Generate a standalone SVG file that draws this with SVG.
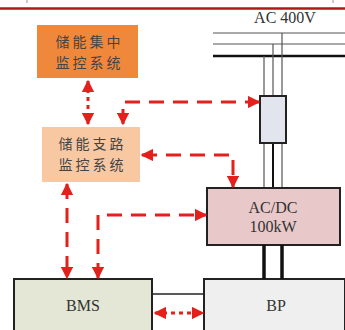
<svg xmlns="http://www.w3.org/2000/svg" width="345" height="330" viewBox="0 0 345 330">
<defs>
<marker id="ah" viewBox="0 0 10 10" refX="9" refY="5" markerWidth="4.2" markerHeight="4.2" orient="auto-start-reverse" markerUnits="strokeWidth">
<path d="M0,0 L10,5 L0,10 z" fill="#e4201c"/>
</marker>
<style>
.dash{fill:none;stroke:#e4201c;stroke-width:3;stroke-dasharray:15 9}
.dot{fill:none;stroke:#e4201c;stroke-width:3;stroke-dasharray:4 4}
.bus{stroke:#555;stroke-width:1.2;fill:none}
.cn{font-family:"Noto Sans CJK SC",sans-serif;font-size:14px;letter-spacing:3px;fill:#444;text-anchor:middle}
.en{font-family:"Liberation Serif",serif;font-size:16px;fill:#333;text-anchor:middle}
.box{stroke:#222;stroke-width:2}
</style>
</defs>
<rect width="345" height="330" fill="#fff"/>
<line x1="0" y1="8.5" x2="345" y2="8.5" stroke="#b01818" stroke-width="2.5"/>
<line x1="27" y1="0" x2="27" y2="3" stroke="#999" stroke-width="1"/>
<line x1="333" y1="0" x2="333" y2="3" stroke="#999" stroke-width="1"/>

<g id="grid">
<text class="en" x="285" y="23">AC 400V</text>
<line class="bus" x1="213" y1="33" x2="345" y2="33"/>
<line class="bus" x1="213" y1="44" x2="345" y2="44"/>
<line x1="213" y1="56" x2="345" y2="56" stroke="#111" stroke-width="2.5"/>
<line class="bus" x1="282" y1="33" x2="282" y2="96"/>
<line class="bus" x1="273" y1="44" x2="273" y2="96"/>
<line class="bus" x1="264" y1="56" x2="264" y2="96"/>
<line class="bus" x1="264" y1="143" x2="264" y2="188"/>
<line x1="273" y1="143" x2="273" y2="188" stroke="#111" stroke-width="2"/>
<line class="bus" x1="282" y1="143" x2="282" y2="188"/>
</g>

<g id="switch">
<rect class="box" x="260" y="96" width="26" height="47" fill="#e2e5ee"/>
</g>

<g id="central">
<rect x="37" y="25" width="101" height="53" fill="#f0883c"/>
<text class="cn" x="89.5" y="47">储能集中</text>
<text class="cn" x="89.5" y="68">监控系统</text>
</g>

<g id="branch">
<rect x="42" y="127" width="98" height="55" fill="#f8c8a2"/>
<text class="cn" x="92.5" y="149">储能支路</text>
<text class="cn" x="92.5" y="170">监控系统</text>
</g>

<g id="acdc">
<rect class="box" x="207" y="188" width="133" height="57" fill="#e8c8c8"/>
<text class="en" x="273" y="213">AC/DC</text>
<text class="en" x="273" y="232">100kW</text>
</g>

<g id="bms">
<rect class="box" x="14" y="279" width="138" height="60" fill="#e4e6d6"/>
<text class="en" x="83" y="311">BMS</text>
</g>

<g id="bp">
<rect class="box" x="204" y="279" width="141" height="60" fill="#efefef"/>
<text class="en" x="276" y="311">BP</text>
</g>

<g id="connectors">
<line x1="264" y1="245" x2="264" y2="279" stroke="#111" stroke-width="3.5"/>
<line x1="282" y1="245" x2="282" y2="279" stroke="#111" stroke-width="3.5"/>
<line x1="152" y1="294" x2="204" y2="294" stroke="#222" stroke-width="1.5"/>
<path class="dot" d="M88,81 V124" marker-start="url(#ah)" marker-end="url(#ah)"/>
<path class="dash" d="M123,124 V102 H259" marker-start="url(#ah)" marker-end="url(#ah)"/>
<path class="dash" d="M142,155 H233 V187" marker-start="url(#ah)" marker-end="url(#ah)"/>
<path class="dash" d="M67,184 V278" marker-start="url(#ah)" marker-end="url(#ah)"/>
<path class="dash" d="M98,278 V215 H206" marker-start="url(#ah)" marker-end="url(#ah)"/>
<path class="dot" d="M155,313 H203" marker-start="url(#ah)" marker-end="url(#ah)"/>
</g>
</svg>
